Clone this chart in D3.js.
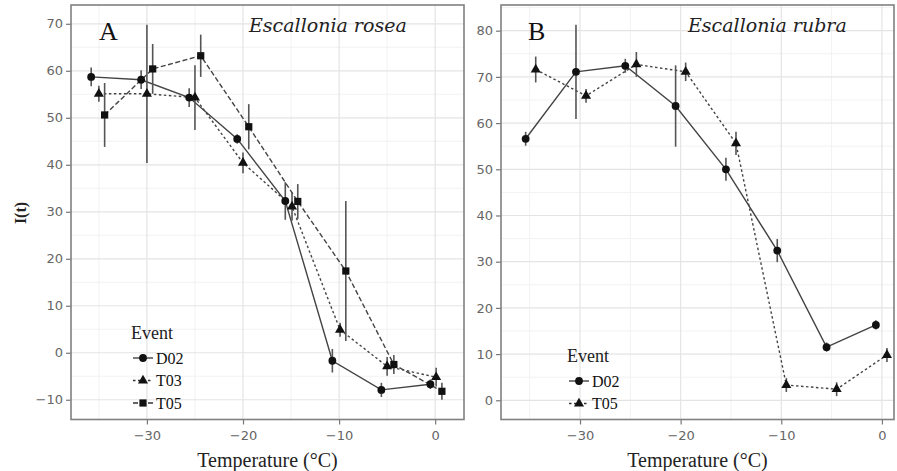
<!DOCTYPE html>
<html><head><meta charset="utf-8">
<script src="https://cdn.jsdelivr.net/npm/d3@7"></script>
<style>body{margin:0;background:#fff;}svg{display:block;}</style>
</head><body>
<svg id="c" width="897" height="471"></svg>
<script>
// ---- Data ----
const xTicks = [-30, -20, -10, 0];
const yTicksA = [-10, 0, 10, 20, 30, 40, 50, 60, 70];
const yTicksB = [0, 10, 20, 30, 40, 50, 60, 70, 80];

const eventsA = ["D02", "T03", "T05"];
const eventsB = ["D02", "T05"];

const tempA_D02 = [-35.8, -30.6, -25.6, -20.6, -15.6, -10.7, -5.6, -0.5];
const valA_D02  = [58.7, 58.1, 54.3, 45.5, 32.3, -1.7, -7.9, -6.7];
const errA_D02  = [2, 2, 2, 1, 4, 2.5, 1.5, 1];

const tempA_T03 = [-35.0, -30.0, -25.0, -20.0, -14.9, -9.9, -5.0, 0.1];
const valA_T03  = [55.1, 55.1, 54.3, 40.4, 31.1, 4.9, -2.9, -5.2];
const errA_T03  = [1.7, 14.7, 6.9, 2.2, 3, 1.5, 2, 2];

const tempA_T05 = [-34.4, -29.4, -24.4, -19.4, -14.3, -9.3, -4.3, 0.7];
const valA_T05  = [50.6, 60.4, 63.2, 48.1, 32.2, 17.4, -2.5, -8.2];
const errA_T05  = [6.8, 5.3, 4.5, 4.8, 3.7, 14.9, 2, 1.8];

const tempB_D02 = [-35.4, -30.4, -25.5, -20.5, -15.5, -10.4, -5.5, -0.6];
const valB_D02  = [56.6, 71.1, 72.4, 63.7, 50.0, 32.4, 11.5, 16.3];
const errB_D02  = [1.5, 10.2, 1.5, 8.8, 2.5, 2.5, 1, 1];

const tempB_T05 = [-34.4, -29.4, -24.4, -19.5, -14.5, -9.5, -4.5, 0.5];
const valB_T05  = [71.6, 65.9, 72.7, 71.1, 55.6, 3.3, 2.4, 9.8];
const errB_T05  = [2.8, 1.5, 2.7, 2, 2.5, 1.5, 1.5, 1.5];

// ---- Drawing ----
const svg = d3.select("#c");
const zip = (t, v, e) => t.map((x, i) => ({x, y: v[i], e: e[i]}));

const styles = {
  circle:   {sym: d3.symbolCircle, size: 48},
  triangle: {sym: d3.symbolTriangle, size: 44},
  square:   {sym: d3.symbolSquare, size: 52}
};

function panel(cfg) {
  const g = svg.append("g");
  const x = d3.scaleLinear().domain(cfg.xDom).range([cfg.left, cfg.right]);
  const y = d3.scaleLinear().domain(cfg.yDom).range([cfg.bottom, cfg.top]);

  // minor grid
  const xMinor = d3.range(-35, cfg.xDom[1], 10);
  const yMinor = d3.range(cfg.yTicks[0] - 5, cfg.yDom[1], 10).filter(v => v > cfg.yDom[0]);
  g.selectAll(".xm").data(xMinor).join("line")
    .attr("x1", d => x(d)).attr("x2", d => x(d)).attr("y1", cfg.top).attr("y2", cfg.bottom)
    .attr("stroke", "#f2f2f2").attr("stroke-width", 1);
  g.selectAll(".ym").data(yMinor).join("line")
    .attr("x1", cfg.left).attr("x2", cfg.right).attr("y1", d => y(d)).attr("y2", d => y(d))
    .attr("stroke", "#f2f2f2").attr("stroke-width", 1);
  // major grid
  g.selectAll(".xg").data(xTicks).join("line")
    .attr("x1", d => x(d)).attr("x2", d => x(d)).attr("y1", cfg.top).attr("y2", cfg.bottom)
    .attr("stroke", "#e4e4e4").attr("stroke-width", 1.2);
  g.selectAll(".yg").data(cfg.yTicks).join("line")
    .attr("x1", cfg.left).attr("x2", cfg.right).attr("y1", d => y(d)).attr("y2", d => y(d))
    .attr("stroke", "#e4e4e4").attr("stroke-width", 1.2);

  // axes
  const xa = g.append("g").attr("transform", `translate(0,${cfg.bottom})`)
    .call(d3.axisBottom(x).tickValues(xTicks).tickSize(5).tickPadding(6).tickFormat(d3.format("d")));
  const ya = g.append("g").attr("transform", `translate(${cfg.left},0)`)
    .call(d3.axisLeft(y).tickValues(cfg.yTicks).tickSize(5).tickPadding(3).tickFormat(d3.format("d")));
  [xa, ya].forEach(a => {
    a.select(".domain").remove();
    a.selectAll(".tick line").attr("stroke", "#777").attr("stroke-width", 1.2);
    a.selectAll(".tick text").attr("fill", "#666").style("font-family", "DejaVu Sans")
      .style("font-size", "13px");
  });

  // frame
  g.append("rect").attr("x", cfg.left).attr("y", cfg.top)
    .attr("width", cfg.right - cfg.left).attr("height", cfg.bottom - cfg.top)
    .attr("fill", "none").attr("stroke", "#808080").attr("stroke-width", 1.6);

  // series
  const line = d3.line().x(d => x(d.x)).y(d => y(d.y));
  cfg.series.forEach(s => {
    g.append("path").datum(s.data).attr("d", line).attr("fill", "none")
      .attr("stroke", "#444").attr("stroke-width", 1.4)
      .attr("stroke-dasharray", s.dash);
  });
  cfg.series.forEach(s => {
    g.selectAll(null).data(s.data).join("line")
      .attr("x1", d => x(d.x)).attr("x2", d => x(d.x))
      .attr("y1", d => y(d.y - d.e)).attr("y2", d => y(d.y + d.e))
      .attr("stroke", "#555").attr("stroke-width", 1.6);
  });
  cfg.series.forEach(s => {
    const st = styles[s.shape];
    g.selectAll(null).data(s.data).join("path")
      .attr("d", d3.symbol().type(st.sym).size(st.size))
      .attr("transform", d => `translate(${x(d.x)},${y(d.y)})`)
      .attr("fill", "#111");
  });

  // panel letter & species
  g.append("text").attr("x", cfg.letterX).attr("y", 40).text(cfg.letter)
    .style("font-family", "Liberation Serif").style("font-size", "26px").attr("fill", "#111");
  g.append("text").attr("x", cfg.speciesX).attr("y", 32).text(cfg.species)
    .style("font-family", "DejaVu Serif").style("font-style", "italic")
    .style("font-size", "19px").attr("fill", "#222");

  // x title
  g.append("text").attr("x", (cfg.left + cfg.right) / 2).attr("y", 467).attr("text-anchor", "middle")
    .text("Temperature (°C)").style("font-family", "Liberation Serif").style("font-size", "20px")
    .attr("fill", "#222");

  // legend
  const lg = g.append("g");
  lg.append("text").attr("x", cfg.legX - 2).attr("y", cfg.legY).text("Event")
    .style("font-family", "Liberation Serif").style("font-size", "18px").attr("fill", "#222");
  cfg.series.forEach((s, i) => {
    const yy = cfg.legY + 19 + i * 22.5;
    lg.append("line").attr("x1", cfg.legX).attr("x2", cfg.legX + 20).attr("y1", yy).attr("y2", yy)
      .attr("stroke", "#333").attr("stroke-width", 1.3).attr("stroke-dasharray", s.dash);
    lg.append("path").attr("d", d3.symbol().type(styles[s.shape].sym).size(styles[s.shape].size)())
      .attr("transform", `translate(${cfg.legX + 10},${yy})`).attr("fill", "#111");
    lg.append("text").attr("x", cfg.legX + 23).attr("y", yy + 5.5).text(s.name)
      .style("font-family", "Liberation Serif").style("font-size", "16px").attr("fill", "#111");
  });
}

panel({
  left: 71, right: 464, top: 5, bottom: 419.5,
  xDom: [-37.9, 3.0], yDom: [-14.2, 74.0], yTicks: yTicksA,
  letter: "A", letterX: 99, species: "Escallonia rosea", speciesX: 249,
  legX: 133, legY: 339,
  series: [
    {name: eventsA[0], data: zip(tempA_D02, valA_D02, errA_D02), shape: "circle", dash: null},
    {name: eventsA[1], data: zip(tempA_T03, valA_T03, errA_T03), shape: "triangle", dash: "2.5,2.5"},
    {name: eventsA[2], data: zip(tempA_T05, valA_T05, errA_T05), shape: "square", dash: "5,2.5"}
  ]
});
panel({
  left: 501, right: 894, top: 5, bottom: 419.5,
  xDom: [-37.85, 1.2], yDom: [-4.16, 85.56], yTicks: yTicksB,
  letter: "B", letterX: 528, species: "Escallonia rubra", speciesX: 688,
  legX: 569, legY: 362,
  series: [
    {name: eventsB[0], data: zip(tempB_D02, valB_D02, errB_D02), shape: "circle", dash: null},
    {name: eventsB[1], data: zip(tempB_T05, valB_T05, errB_T05), shape: "triangle", dash: "2.5,2.5"}
  ]
});

// y title
svg.append("text").attr("transform", "translate(26,213) rotate(-90)").attr("text-anchor", "middle")
  .text("I(t)").style("font-family", "Liberation Serif").style("font-weight", "bold")
  .style("font-size", "16px").attr("fill", "#222");
</script>
</body></html>
